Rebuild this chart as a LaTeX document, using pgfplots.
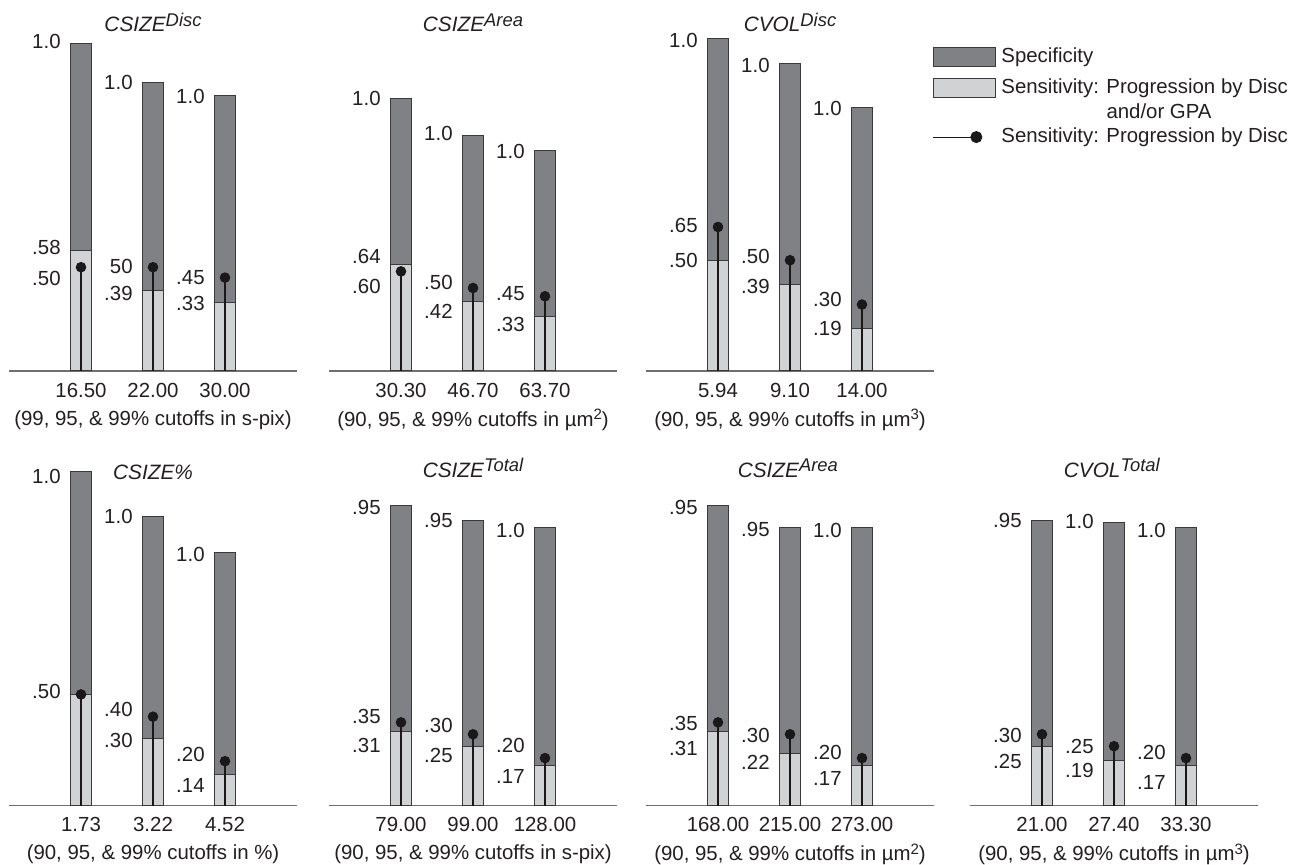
\documentclass[border=0pt]{standalone}
\usepackage{fontspec}
\setmainfont{Liberation Sans}
\usepackage{pgfplots}
\pgfplotsset{compat=1.18}

\definecolor{darkbar}{RGB}{128,129,133}
\definecolor{lightbar}{RGB}{209,210,212}
\definecolor{edge}{RGB}{58,58,60}
\definecolor{txt}{RGB}{35,31,32}
\definecolor{axisgray}{RGB}{110,111,113}
\definecolor{dotc}{RGB}{26,24,25}

\newcommand{\lf}{\fontsize{10.2}{12}\selectfont}
\newcommand{\tf}{\fontsize{10.4}{12}\selectfont\itshape}
\newcommand{\supx}[1]{\raisebox{2.8pt}{\fontsize{9.2}{10}\selectfont #1}}
\newcommand{\supn}[1]{\raisebox{3.2pt}{\fontsize{7.5}{8}\selectfont #1}}

\tikzset{lbl/.style={anchor=east, inner sep=0pt, xshift=-10pt, font=\lf, text=txt},
         ttl/.style={anchor=base, inner sep=0pt, font=\tf, text=txt}}
\newcommand{\vl}[3]{\node[lbl] at (axis cs:#1,#2) {#3};}

\pgfplotsset{
  panel/.style={
    scale only axis, clip=false,
    x=36pt, xmin=0, xmax=4, ymin=0,
    axis x line=bottom, axis y line=none,
    x axis line style={-, draw=axisgray, line width=0.65pt},
    xtick={1,2,3}, major tick length=0pt, xtick style={draw=none},
    ybar stacked, bar width=0.3,
    tick label style={font=\lf, text=txt},
    xticklabel style={inner sep=0pt, anchor=center, yshift=-9.5pt},
    xlabel style={at={(axis description cs:0.5,0)}, anchor=center, yshift=-24.4pt, inner sep=0pt, font=\lf, text=txt},
  },
  dotpanel/.style={scale only axis, clip=false, x=36pt, xmin=0, xmax=4, ymin=0, hide axis},
  lightb/.style={fill=lightbar, draw=edge, line width=0.5pt},
  darkb/.style={fill=darkbar, draw=edge, line width=0.5pt},
  comb/.style={ycomb, draw=dotc, line width=0.65pt, mark=*, mark size=2.3pt, mark options={fill=dotc, draw=dotc, solid}},
}

\begin{document}
\begin{tikzpicture}
\useasboundingbox (0,0) rectangle (654pt,432.5pt);

% ---------- Panel 1: CSIZE Disc
\begin{axis}[panel, at={(4.5pt,247pt)}, anchor=south west, y=103.75pt, ymax=1.7,
  xticklabels={16.50,22.00,30.00},
  xlabel={(99, 95, \& 99\% cutoffs in s-pix)}]
\addplot[lightb] coordinates {(1,0.58) (2,0.39) (3,0.33)};
\addplot[darkb] coordinates {(1,1.0) (2,1.0) (3,1.0)};
\node[ttl] at (axis cs:2,1.635) {CSIZE\supx{Disc}};
\vl{1}{1.587}{1.0}\vl{2}{1.389}{1.0}\vl{3}{1.325}{1.0}
\vl{1}{0.593}{.58}\vl{1}{0.448}{.50}
\vl{2}{0.503}{50}\vl{2}{0.374}{.39}
\vl{3}{0.448}{.45}\vl{3}{0.326}{.33}
\end{axis}
\begin{axis}[dotpanel, at={(4.5pt,247pt)}, anchor=south west, y=103.75pt, ymax=1.7]
\addplot[comb] coordinates {(1,0.50) (2,0.50) (3,0.45)};
\end{axis}

% ---------- Panel 2: CSIZE Area
\begin{axis}[panel, at={(164.5pt,247pt)}, anchor=south west, y=83pt, ymax=2.1,
  xticklabels={30.30,46.70,63.70},
  xlabel={(90, 95, \& 99\% cutoffs in µm\supn{2})}]
\addplot[lightb] coordinates {(1,0.64) (2,0.42) (3,0.33)};
\addplot[darkb] coordinates {(1,1.0) (2,1.0) (3,1.0)};
\node[ttl] at (axis cs:2,2.044) {CSIZE\supx{Area}};
\vl{1}{1.64}{1.0}\vl{2}{1.428}{1.0}\vl{3}{1.321}{1.0}
\vl{1}{0.689}{.64}\vl{1}{0.508}{.60}
\vl{2}{0.532}{.50}\vl{2}{0.357}{.42}
\vl{3}{0.468}{.45}\vl{3}{0.283}{.33}
\end{axis}
\begin{axis}[dotpanel, at={(164.5pt,247pt)}, anchor=south west, y=83pt, ymax=2.1]
\addplot[comb] coordinates {(1,0.60) (2,0.50) (3,0.45)};
\end{axis}

% ---------- Panel 3: CVOL Disc (with legend)
\begin{axis}[panel, at={(323pt,247pt)}, anchor=south west, y=110.75pt, ymax=1.6,
  xticklabels={5.94,9.10,14.00},
  xlabel={(90, 95, \& 99\% cutoffs in µm\supn{3})}]
\addplot[lightb] coordinates {(1,0.50) (2,0.39) (3,0.19)};
\addplot[darkb] coordinates {(1,1.0) (2,1.0) (3,1.0)};
\node[ttl] at (axis cs:2,1.532) {CVOL\supx{Disc}};
\vl{1}{1.494}{1.0}\vl{2}{1.381}{1.0}\vl{3}{1.186}{1.0}
\vl{1}{0.659}{.65}\vl{1}{0.501}{.50}
\vl{2}{0.519}{.50}\vl{2}{0.381}{.39}
\vl{3}{0.321}{.30}\vl{3}{0.193}{.19}
\end{axis}
\begin{axis}[dotpanel, at={(323pt,247pt)}, anchor=south west, y=110.75pt, ymax=1.6,
  legend cell align=left,
  legend style={at={(axis description cs:0.996,0.915)}, anchor=north west, draw=none, fill=none,
    inner sep=0pt, outer sep=0pt, row sep=3.2pt, column sep=2.8pt,
    nodes={inner sep=0pt, font=\lf, text=txt}}]
\addplot[comb, forget plot] coordinates {(1,0.65) (2,0.50) (3,0.30)};
\addlegendimage{legend image code/.code={\draw[fill=darkbar, draw=edge, line width=0.5pt] (0pt,-4.75pt) rectangle (31pt,4.75pt); \path (0pt,-7.05pt) -- (0pt,-7.05pt);}}
\addlegendentry{Specificity}
\addlegendimage{legend image code/.code={\draw[fill=lightbar, draw=edge, line width=0.5pt] (0pt,-4.75pt) rectangle (31pt,4.75pt);}}
\addlegendentry{Sensitivity: Progression by Disc}
\addlegendimage{empty legend}
\addlegendentry{\phantom{Sensitivity: }and/or GPA}
\addlegendimage{legend image code/.code={\draw[draw=dotc, line width=0.5pt] (0pt,0pt) -- (21.5pt,0pt); \draw[mark indices={2}, draw=none, mark=*, mark size=2.8pt, mark options={fill=dotc, draw=dotc}] plot coordinates {(0pt,0pt) (21.5pt,0pt)};}}
\addlegendentry{Sensitivity: Progression by Disc}
\end{axis}

% ---------- Panel 4: CSIZE %
\begin{axis}[panel, at={(4.5pt,29.65pt)}, anchor=south west, y=111.25pt, ymax=1.55,
  xticklabels={1.73,3.22,4.52},
  xlabel={(90, 95, \& 99\% cutoffs in \%)}]
\addplot[lightb] coordinates {(1,0.50) (2,0.30) (3,0.14)};
\addplot[darkb] coordinates {(1,1.0) (2,1.0) (3,1.0)};
\node[ttl] at (axis cs:2,1.467) {CSIZE\%};
\vl{1}{1.479}{1.0}\vl{2}{1.299}{1.0}\vl{3}{1.131}{1.0}
\vl{1}{0.512}{.50}
\vl{2}{0.433}{.40}\vl{2}{0.292}{.30}
\vl{3}{0.228}{.20}\vl{3}{0.093}{.14}
\end{axis}
\begin{axis}[dotpanel, at={(4.5pt,29.65pt)}, anchor=south west, y=111.25pt, ymax=1.55]
\addplot[comb] coordinates {(1,0.50) (2,0.40) (3,0.20)};
\end{axis}

% ---------- Panel 5: CSIZE Total
\begin{axis}[panel, at={(164.5pt,29.65pt)}, anchor=south west, y=119pt, ymax=1.3,
  xticklabels={79.00,99.00,128.00},
  xlabel={(90, 95, \& 99\% cutoffs in s-pix)}]
\addplot[lightb] coordinates {(1,0.31) (2,0.25) (3,0.17)};
\addplot[darkb] coordinates {(1,0.95) (2,0.95) (3,1.0)};
\node[ttl] at (axis cs:2,1.38) {CSIZE\supx{Total}};
\vl{1}{1.254}{.95}\vl{2}{1.200}{.95}\vl{3}{1.158}{1.0}
\vl{1}{0.374}{.35}\vl{1}{0.255}{.31}
\vl{2}{0.339}{.30}\vl{2}{0.209}{.25}
\vl{3}{0.255}{.20}\vl{3}{0.122}{.17}
\end{axis}
\begin{axis}[dotpanel, at={(164.5pt,29.65pt)}, anchor=south west, y=119pt, ymax=1.3]
\addplot[comb] coordinates {(1,0.35) (2,0.30) (3,0.20)};
\end{axis}

% ---------- Panel 6: CSIZE Area (bottom)
\begin{axis}[panel, at={(323pt,29.65pt)}, anchor=south west, y=119pt, ymax=1.3,
  xticklabels={168.00,215.00,273.00},
  xlabel={(90, 95, \& 99\% cutoffs in µm\supn{2})}]
\addplot[lightb] coordinates {(1,0.31) (2,0.22) (3,0.17)};
\addplot[darkb] coordinates {(1,0.95) (2,0.95) (3,1.0)};
\node[ttl] at (axis cs:1.97,1.38) {CSIZE\supx{Area}};
\vl{1}{1.254}{.95}\vl{2}{1.161}{.95}\vl{3}{1.158}{1.0}
\vl{1}{0.346}{.35}\vl{1}{0.241}{.31}
\vl{2}{0.293}{.30}\vl{2}{0.181}{.22}
\vl{3}{0.223}{.20}\vl{3}{0.115}{.17}
\end{axis}
\begin{axis}[dotpanel, at={(323pt,29.65pt)}, anchor=south west, y=119pt, ymax=1.3]
\addplot[comb] coordinates {(1,0.35) (2,0.30) (3,0.20)};
\end{axis}

% ---------- Panel 7: CVOL Total
\begin{axis}[panel, at={(485pt,29.65pt)}, anchor=south west, y=119pt, ymax=1.3,
  xticklabels={21.00,27.40,33.30},
  xlabel={(90, 95, \& 99\% cutoffs in µm\supn{3})}]
\addplot[lightb] coordinates {(1,0.25) (2,0.19) (3,0.17)};
\addplot[darkb] coordinates {(1,0.95) (2,1.0) (3,1.0)};
\node[ttl] at (axis cs:1.97,1.38) {CVOL\supx{Total}};
\vl{1}{1.197}{.95}\vl{2}{1.193}{1.0}\vl{3}{1.158}{1.0}
\vl{1}{0.293}{.30}\vl{1}{0.185}{.25}
\vl{2}{0.248}{.25}\vl{2}{0.147}{.19}
\vl{3}{0.223}{.20}\vl{3}{0.097}{.17}
\end{axis}
\begin{axis}[dotpanel, at={(485pt,29.65pt)}, anchor=south west, y=119pt, ymax=1.3]
\addplot[comb] coordinates {(1,0.30) (2,0.25) (3,0.20)};
\end{axis}
\end{tikzpicture}
\end{document}
